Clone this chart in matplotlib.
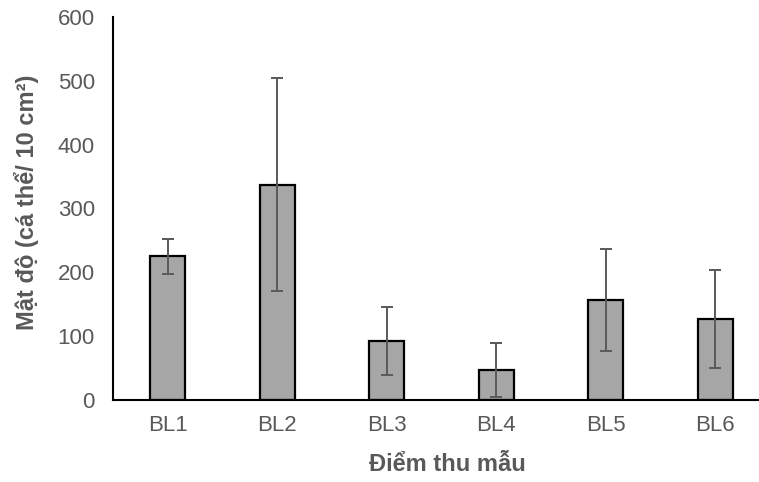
import matplotlib.pyplot as plt
import numpy as np

plt.rcParams['font.family'] = ['Liberation Sans', 'DejaVu Sans']

sites = ["BL1", "BL2", "BL3", "BL4", "BL5", "BL6"]
density = [225, 337, 92, 47, 156, 127]
err = [28, 167, 53, 42, 80, 77]

txt = "#595959"

fig = plt.figure(figsize=(7.59, 4.82), dpi=100)
ax = fig.add_axes([113 / 759, 1 - 400 / 482, 1 - 113 / 759, 383 / 482])

x = np.arange(len(sites))
ax.bar(x, density, width=0.32, color="#a6a6a6", edgecolor="black", linewidth=1.6, zorder=2)
ax.errorbar(x, density, yerr=err, fmt="none", ecolor=txt, elinewidth=1.4,
            capsize=4.5, capthick=1.4, zorder=3)

ax.set_xlim(-0.5, 5.4)
ax.set_ylim(0, 600)
ax.set_yticks(range(0, 601, 100))
ax.set_xticks(x)
ax.set_xticklabels(sites)
ax.tick_params(length=0, labelsize=16, labelcolor=txt)
ax.tick_params(axis="y", pad=13)
ax.tick_params(axis="x", pad=11)

for s in ["top", "right"]:
    ax.spines[s].set_visible(False)
ax.spines["left"].set_linewidth(1.5)
ax.spines["bottom"].set_linewidth(1.5)

ax.set_ylabel("Mật độ (cá thể/ 10 cm²)", fontsize=17, fontweight="bold", color=txt)
ax.set_xlabel("Điểm thu mẫu", fontsize=17, fontweight="bold", color=txt)
# put the axis titles where the original sits
ax.yaxis.set_label_coords(-74 / 646, 0.516)
ax.xaxis.set_label_coords(0.517, -53 / 383)

fig.savefig("out.png", dpi=100)
